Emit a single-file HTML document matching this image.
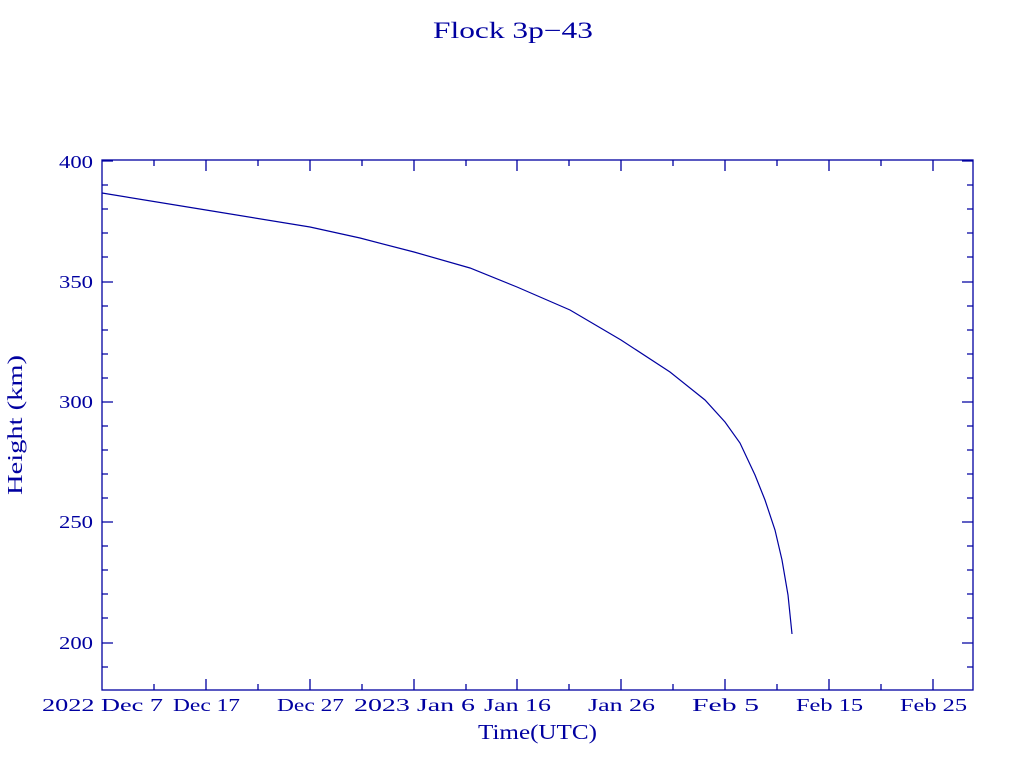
<!DOCTYPE html>
<html><head><meta charset="utf-8"><style>body{margin:0;background:#fff}svg{display:block}</style></head><body>
<svg width="1024" height="768" xmlns="http://www.w3.org/2000/svg" font-family="Liberation Serif, serif" fill="#0000a0">
<text x="433" y="38" font-size="23" textLength="160" lengthAdjust="spacingAndGlyphs">Flock 3p−43</text>
<g stroke="#0000a0" stroke-width="1.3" fill="none">
<rect x="102" y="160" width="871" height="530"/>
<path d="M102 161h11M102 643h11M102 402h11M102 282h11M102 522h11M102 185h6M102 209h6M102 233h6M102 257h6M102 306h6M102 330h6M102 354h6M102 378h6M102 426h6M102 450h6M102 474h6M102 498h6M102 546h6M102 570h6M102 594h6M102 618h6M102 667h6"/>
<path d="M973 161h-11M973 643h-11M973 402h-11M973 282h-11M973 522h-11M973 185h-6M973 209h-6M973 233h-6M973 257h-6M973 306h-6M973 330h-6M973 354h-6M973 378h-6M973 426h-6M973 450h-6M973 474h-6M973 498h-6M973 546h-6M973 570h-6M973 594h-6M973 618h-6M973 667h-6"/>
<path d="M206 690v-11M310 690v-11M414 690v-11M517 690v-11M621 690v-11M725 690v-11M829 690v-11M933 690v-11M154 690v-6M258 690v-6M362 690v-6M466 690v-6M569 690v-6M673 690v-6M777 690v-6M881 690v-6"/>
<path d="M206 160v11M310 160v11M414 160v11M517 160v11M621 160v11M725 160v11M829 160v11M933 160v11M154 160v6M258 160v6M362 160v6M466 160v6M569 160v6M673 160v6M777 160v6M881 160v6"/>
<path stroke-width="1.2" d="M102 193L206 210L310 227L360 238L414 252L470 268L517 287L570 310L621 340L670 372L705 400L725 422L740 443L755 475L765 500L775 530L782 560L788 595L792 634"/>
</g>
<g font-size="18">
<text x="59" y="168" textLength="34" lengthAdjust="spacingAndGlyphs">400</text>
<text x="59" y="288" textLength="34" lengthAdjust="spacingAndGlyphs">350</text>
<text x="59" y="408" textLength="34" lengthAdjust="spacingAndGlyphs">300</text>
<text x="59" y="528" textLength="34" lengthAdjust="spacingAndGlyphs">250</text>
<text x="59" y="649" textLength="34" lengthAdjust="spacingAndGlyphs">200</text>
<text x="42" y="711" textLength="121" lengthAdjust="spacingAndGlyphs">2022 Dec  7</text>
<text x="173" y="711" textLength="67" lengthAdjust="spacingAndGlyphs">Dec 17</text>
<text x="277" y="711" textLength="67" lengthAdjust="spacingAndGlyphs">Dec 27</text>
<text x="354" y="711" textLength="121" lengthAdjust="spacingAndGlyphs">2023 Jan  6</text>
<text x="484" y="711" textLength="67" lengthAdjust="spacingAndGlyphs">Jan 16</text>
<text x="588" y="711" textLength="67" lengthAdjust="spacingAndGlyphs">Jan 26</text>
<text x="692" y="711" textLength="67" lengthAdjust="spacingAndGlyphs">Feb  5</text>
<text x="796" y="711" textLength="67" lengthAdjust="spacingAndGlyphs">Feb 15</text>
<text x="900" y="711" textLength="67" lengthAdjust="spacingAndGlyphs">Feb 25</text>
</g>
<text x="478" y="739" font-size="21" textLength="119" lengthAdjust="spacingAndGlyphs">Time(UTC)</text>
<text transform="translate(22,495) rotate(-90)" font-size="21" textLength="140" lengthAdjust="spacingAndGlyphs">Height (km)</text>
</svg>
</body></html>
